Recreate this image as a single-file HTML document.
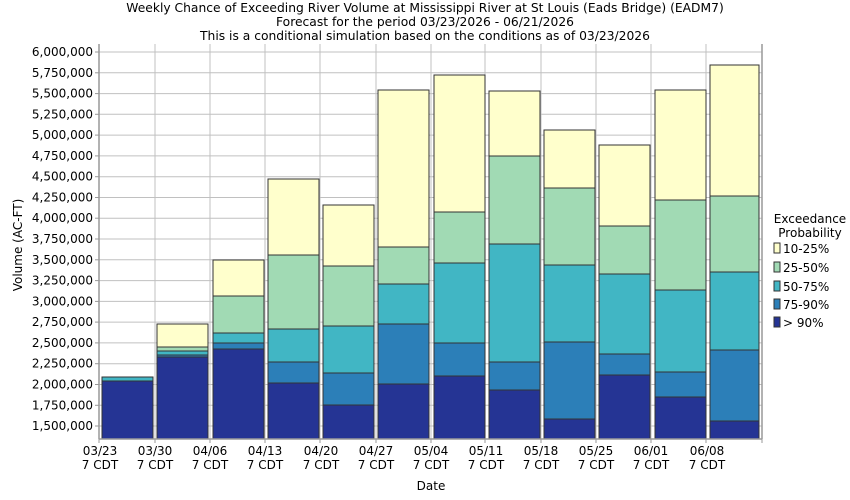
<!DOCTYPE html>
<html><head><meta charset="utf-8"><style>
html,body{margin:0;padding:0;background:#fff;}
svg{display:block;font-family:"DejaVu Sans","Liberation Sans",sans-serif;}
</style></head><body>
<svg width="850" height="500" viewBox="0 0 850 500" xmlns="http://www.w3.org/2000/svg">
<rect width="850" height="500" fill="#fff"/>
<g font-size="12.3" text-anchor="middle" fill="#000">
<text x="425" y="12">Weekly Chance of Exceeding River Volume at Mississippi River at St Louis (Eads Bridge) (EADM7)</text>
<text x="425" y="26">Forecast for the period 03/23/2026 - 06/21/2026</text>
<text x="425" y="40">This is a conditional simulation based on the conditions as of 03/23/2026</text>
</g>
<g stroke="#c0c0c0" stroke-width="1">
<line x1="99" x2="762" y1="52" y2="52"/><line x1="99" x2="762" y1="72.8" y2="72.8"/><line x1="99" x2="762" y1="93.6" y2="93.6"/><line x1="99" x2="762" y1="114.3" y2="114.3"/><line x1="99" x2="762" y1="135.1" y2="135.1"/><line x1="99" x2="762" y1="155.9" y2="155.9"/><line x1="99" x2="762" y1="176.7" y2="176.7"/><line x1="99" x2="762" y1="197.5" y2="197.5"/><line x1="99" x2="762" y1="218.2" y2="218.2"/><line x1="99" x2="762" y1="239" y2="239"/><line x1="99" x2="762" y1="259.8" y2="259.8"/><line x1="99" x2="762" y1="280.6" y2="280.6"/><line x1="99" x2="762" y1="301.4" y2="301.4"/><line x1="99" x2="762" y1="322.1" y2="322.1"/><line x1="99" x2="762" y1="342.9" y2="342.9"/><line x1="99" x2="762" y1="363.7" y2="363.7"/><line x1="99" x2="762" y1="384.5" y2="384.5"/><line x1="99" x2="762" y1="405.3" y2="405.3"/><line x1="99" x2="762" y1="426" y2="426"/>
<line x1="155" x2="155" y1="44" y2="439"/><line x1="210" x2="210" y1="44" y2="439"/><line x1="265" x2="265" y1="44" y2="439"/><line x1="320" x2="320" y1="44" y2="439"/><line x1="376" x2="376" y1="44" y2="439"/><line x1="431" x2="431" y1="44" y2="439"/><line x1="485" x2="485" y1="44" y2="439"/><line x1="541" x2="541" y1="44" y2="439"/><line x1="596" x2="596" y1="44" y2="439"/><line x1="651" x2="651" y1="44" y2="439"/><line x1="706" x2="706" y1="44" y2="439"/>
</g>
<g stroke="#333" stroke-width="1">
<rect x="102" y="377" width="51" height="4" fill="#41b6c4"/><rect x="102" y="381" width="51" height="58" fill="#253494"/>
<rect x="157" y="324" width="51" height="23" fill="#ffffcc"/><rect x="157" y="347" width="51" height="4" fill="#a1dab4"/><rect x="157" y="351" width="51" height="4" fill="#41b6c4"/><rect x="157" y="355" width="51" height="2" fill="#2c7fb8"/><rect x="157" y="357" width="51" height="82" fill="#253494"/>
<rect x="213" y="260" width="51" height="36" fill="#ffffcc"/><rect x="213" y="296" width="51" height="37" fill="#a1dab4"/><rect x="213" y="333" width="51" height="10" fill="#41b6c4"/><rect x="213" y="343" width="51" height="6" fill="#2c7fb8"/><rect x="213" y="349" width="51" height="90" fill="#253494"/>
<rect x="268" y="179" width="51" height="76" fill="#ffffcc"/><rect x="268" y="255" width="51" height="74" fill="#a1dab4"/><rect x="268" y="329" width="51" height="33" fill="#41b6c4"/><rect x="268" y="362" width="51" height="21" fill="#2c7fb8"/><rect x="268" y="383" width="51" height="56" fill="#253494"/>
<rect x="323" y="205" width="51" height="61" fill="#ffffcc"/><rect x="323" y="266" width="51" height="60" fill="#a1dab4"/><rect x="323" y="326" width="51" height="47" fill="#41b6c4"/><rect x="323" y="373" width="51" height="32" fill="#2c7fb8"/><rect x="323" y="405" width="51" height="34" fill="#253494"/>
<rect x="378" y="90" width="51" height="157" fill="#ffffcc"/><rect x="378" y="247" width="51" height="37" fill="#a1dab4"/><rect x="378" y="284" width="51" height="40" fill="#41b6c4"/><rect x="378" y="324" width="51" height="60" fill="#2c7fb8"/><rect x="378" y="384" width="51" height="55" fill="#253494"/>
<rect x="434" y="75" width="51" height="137" fill="#ffffcc"/><rect x="434" y="212" width="51" height="51" fill="#a1dab4"/><rect x="434" y="263" width="51" height="80" fill="#41b6c4"/><rect x="434" y="343" width="51" height="33" fill="#2c7fb8"/><rect x="434" y="376" width="51" height="63" fill="#253494"/>
<rect x="489" y="91" width="51" height="65" fill="#ffffcc"/><rect x="489" y="156" width="51" height="88" fill="#a1dab4"/><rect x="489" y="244" width="51" height="118" fill="#41b6c4"/><rect x="489" y="362" width="51" height="28" fill="#2c7fb8"/><rect x="489" y="390" width="51" height="49" fill="#253494"/>
<rect x="544" y="130" width="51" height="58" fill="#ffffcc"/><rect x="544" y="188" width="51" height="77" fill="#a1dab4"/><rect x="544" y="265" width="51" height="77" fill="#41b6c4"/><rect x="544" y="342" width="51" height="77" fill="#2c7fb8"/><rect x="544" y="419" width="51" height="20" fill="#253494"/>
<rect x="599" y="145" width="51" height="81" fill="#ffffcc"/><rect x="599" y="226" width="51" height="48" fill="#a1dab4"/><rect x="599" y="274" width="51" height="80" fill="#41b6c4"/><rect x="599" y="354" width="51" height="21" fill="#2c7fb8"/><rect x="599" y="375" width="51" height="64" fill="#253494"/>
<rect x="655" y="90" width="51" height="110" fill="#ffffcc"/><rect x="655" y="200" width="51" height="90" fill="#a1dab4"/><rect x="655" y="290" width="51" height="82" fill="#41b6c4"/><rect x="655" y="372" width="51" height="25" fill="#2c7fb8"/><rect x="655" y="397" width="51" height="42" fill="#253494"/>
<rect x="710" y="65" width="49" height="131" fill="#ffffcc"/><rect x="710" y="196" width="49" height="76" fill="#a1dab4"/><rect x="710" y="272" width="49" height="78" fill="#41b6c4"/><rect x="710" y="350" width="49" height="71" fill="#2c7fb8"/><rect x="710" y="421" width="49" height="18" fill="#253494"/>
</g>
<g stroke="#999" stroke-width="1.5">
<line x1="99" x2="99" y1="44" y2="439"/><line x1="762" x2="762" y1="44" y2="439"/><line x1="99" x2="762" y1="439" y2="439"/>
</g>
<g stroke="#999" stroke-width="1">
<line x1="95" x2="99" y1="52" y2="52"/><line x1="95" x2="99" y1="72.8" y2="72.8"/><line x1="95" x2="99" y1="93.6" y2="93.6"/><line x1="95" x2="99" y1="114.3" y2="114.3"/><line x1="95" x2="99" y1="135.1" y2="135.1"/><line x1="95" x2="99" y1="155.9" y2="155.9"/><line x1="95" x2="99" y1="176.7" y2="176.7"/><line x1="95" x2="99" y1="197.5" y2="197.5"/><line x1="95" x2="99" y1="218.2" y2="218.2"/><line x1="95" x2="99" y1="239" y2="239"/><line x1="95" x2="99" y1="259.8" y2="259.8"/><line x1="95" x2="99" y1="280.6" y2="280.6"/><line x1="95" x2="99" y1="301.4" y2="301.4"/><line x1="95" x2="99" y1="322.1" y2="322.1"/><line x1="95" x2="99" y1="342.9" y2="342.9"/><line x1="95" x2="99" y1="363.7" y2="363.7"/><line x1="95" x2="99" y1="384.5" y2="384.5"/><line x1="95" x2="99" y1="405.3" y2="405.3"/><line x1="95" x2="99" y1="426" y2="426"/>
<line x1="99" x2="99" y1="439" y2="443"/><line x1="155" x2="155" y1="439" y2="443"/><line x1="210" x2="210" y1="439" y2="443"/><line x1="265" x2="265" y1="439" y2="443"/><line x1="320" x2="320" y1="439" y2="443"/><line x1="376" x2="376" y1="439" y2="443"/><line x1="431" x2="431" y1="439" y2="443"/><line x1="485" x2="485" y1="439" y2="443"/><line x1="541" x2="541" y1="439" y2="443"/><line x1="596" x2="596" y1="439" y2="443"/><line x1="651" x2="651" y1="439" y2="443"/><line x1="706" x2="706" y1="439" y2="443"/><line x1="762" x2="762" y1="439" y2="443"/>
</g>
<g font-size="12" text-anchor="end" fill="#000">
<text x="93" y="56">6,000,000</text><text x="93" y="76.8">5,750,000</text><text x="93" y="97.6">5,500,000</text><text x="93" y="118.3">5,250,000</text><text x="93" y="139.1">5,000,000</text><text x="93" y="159.9">4,750,000</text><text x="93" y="180.7">4,500,000</text><text x="93" y="201.5">4,250,000</text><text x="93" y="222.2">4,000,000</text><text x="93" y="243">3,750,000</text><text x="93" y="263.8">3,500,000</text><text x="93" y="284.6">3,250,000</text><text x="93" y="305.4">3,000,000</text><text x="93" y="326.1">2,750,000</text><text x="93" y="346.9">2,500,000</text><text x="93" y="367.7">2,250,000</text><text x="93" y="388.5">2,000,000</text><text x="93" y="409.3">1,750,000</text><text x="93" y="430">1,500,000</text>
</g>
<g font-size="12" text-anchor="middle" fill="#000">
<text x="100" y="455">03/23</text><text x="100" y="469">7 CDT</text>
<text x="155" y="455">03/30</text><text x="155" y="469">7 CDT</text>
<text x="210" y="455">04/06</text><text x="210" y="469">7 CDT</text>
<text x="265" y="455">04/13</text><text x="265" y="469">7 CDT</text>
<text x="321" y="455">04/20</text><text x="321" y="469">7 CDT</text>
<text x="376" y="455">04/27</text><text x="376" y="469">7 CDT</text>
<text x="431" y="455">05/04</text><text x="431" y="469">7 CDT</text>
<text x="486" y="455">05/11</text><text x="486" y="469">7 CDT</text>
<text x="541" y="455">05/18</text><text x="541" y="469">7 CDT</text>
<text x="596" y="455">05/25</text><text x="596" y="469">7 CDT</text>
<text x="651" y="455">06/01</text><text x="651" y="469">7 CDT</text>
<text x="707" y="455">06/08</text><text x="707" y="469">7 CDT</text>
<text x="431" y="490">Date</text>
<text x="0" y="0" transform="translate(22,245) rotate(-90)">Volume (AC-FT)</text>
<text x="810" y="223">Exceedance</text>
<text x="810" y="237">Probability</text>
</g>
<g font-size="12" fill="#000" stroke-width="1">
<rect x="774" y="243" width="6" height="10" fill="#ffffcc" stroke="#333"/><text x="783" y="253">10-25%</text>
<rect x="774" y="262" width="6" height="10" fill="#a1dab4" stroke="#333"/><text x="783" y="272">25-50%</text>
<rect x="774" y="281" width="6" height="10" fill="#41b6c4" stroke="#333"/><text x="783" y="291">50-75%</text>
<rect x="774" y="299" width="6" height="10" fill="#2c7fb8" stroke="#333"/><text x="783" y="309">75-90%</text>
<rect x="774" y="317" width="6" height="10" fill="#253494" stroke="#333"/><text x="783" y="327">&gt; 90%</text>
</g>
</svg>
</body></html>
